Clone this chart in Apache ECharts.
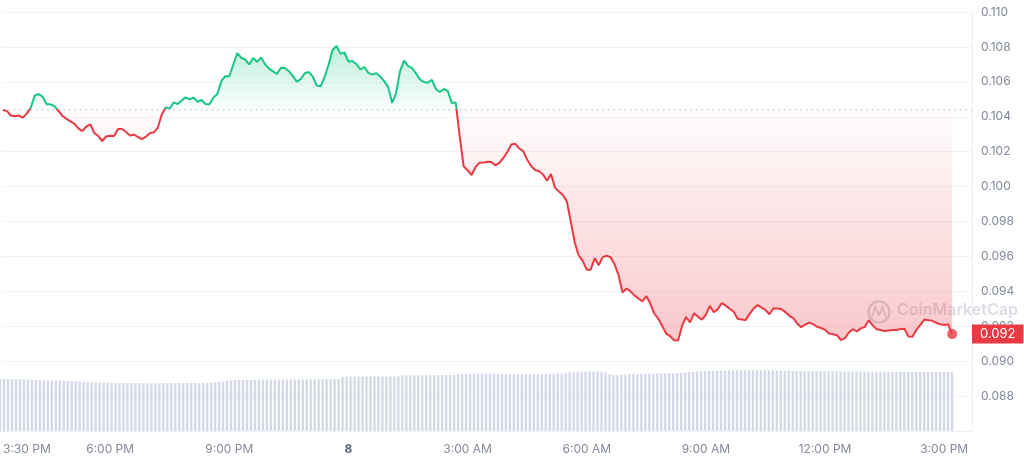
<!DOCTYPE html>
<html>
<head>
<meta charset="utf-8">
<script src="https://cdn.jsdelivr.net/npm/echarts@6/dist/echarts.min.js"></script>
<style>
html,body{margin:0;padding:0;background:#fff;}
#chart{width:1024px;height:463px;}
</style>
</head>
<body>
<div id="chart"></div>
<script>
// ---- data ----
const startHour = 15.3;      // first sample (hours since previous midnight)
const stepHour = 0.1;        // 6-minute samples
const prices = [
0.10439,0.10432,0.10407,0.10403,0.10407,0.10395,0.10418,0.10451,0.10521,0.10530,
0.10515,0.10472,0.10471,0.10460,0.10433,0.10404,0.10388,0.10374,0.10359,0.10333,
0.10318,0.10344,0.10357,0.10307,0.10290,0.10261,0.10287,0.10291,0.10290,0.10330,
0.10330,0.10313,0.10293,0.10297,0.10284,0.10272,0.10286,0.10306,0.10311,0.10337,
0.10413,0.10453,0.10448,0.10482,0.10473,0.10493,0.10511,0.10499,0.10510,0.10485,
0.10496,0.10473,0.10471,0.10510,0.10530,0.10605,0.10632,0.10632,0.10698,0.10765,
0.10738,0.10727,0.10700,0.10737,0.10714,0.10740,0.10700,0.10676,0.10660,0.10645,
0.10681,0.10679,0.10661,0.10633,0.10601,0.10616,0.10649,0.10656,0.10631,0.10579,
0.10574,0.10629,0.10698,0.10782,0.10805,0.10760,0.10768,0.10715,0.10719,0.10701,
0.10671,0.10685,0.10651,0.10641,0.10649,0.10630,0.10604,0.10570,0.10479,0.10536,
0.10662,0.10721,0.10691,0.10678,0.10648,0.10614,0.10599,0.10595,0.10611,0.10559,
0.10542,0.10559,0.10548,0.10479,0.10482,0.10290,0.10116,0.10094,0.10066,0.10112,
0.10137,0.10138,0.10142,0.10141,0.10121,0.10136,0.10164,0.10198,0.10241,0.10245,
0.10218,0.10203,0.10154,0.10118,0.10095,0.10088,0.10069,0.10033,0.10072,0.09994,
0.09972,0.09952,0.09914,0.09797,0.09677,0.09604,0.09574,0.09523,0.09524,0.09591,
0.09549,0.09596,0.09604,0.09595,0.09555,0.09493,0.09393,0.09416,0.09400,0.09377,
0.09359,0.09343,0.09373,0.09330,0.09273,0.09244,0.09201,0.09158,0.09143,0.09120,
0.09118,0.09202,0.09253,0.09222,0.09274,0.09255,0.09238,0.09267,0.09316,0.09280,
0.09298,0.09333,0.09318,0.09300,0.09283,0.09243,0.09239,0.09235,0.09271,0.09301,
0.09321,0.09308,0.09293,0.09269,0.09303,0.09302,0.09298,0.09281,0.09260,0.09247,
0.09214,0.09195,0.09210,0.09221,0.09212,0.09197,0.09190,0.09180,0.09159,0.09154,
0.09149,0.09121,0.09132,0.09164,0.09184,0.09170,0.09188,0.09196,0.09235,0.09205,
0.09183,0.09178,0.09172,0.09176,0.09178,0.09179,0.09184,0.09184,0.09141,0.09140,
0.09180,0.09208,0.09238,0.09235,0.09231,0.09220,0.09211,0.09207,0.09211,0.09155
];
const volumes = [
53.2,53.0,52.9,52.8,52.8,52.7,52.6,52.5,
52.0,51.9,51.8,51.8,51.7,51.6,51.5,51.4,51.2,51.0,50.8,50.6,50.4,50.2,50.0,49.8,49.6,49.5,
49.4,49.3,49.2,49.2,49.1,49.0,49.0,49.0,48.9,48.9,48.8,48.8,48.8,48.8,48.8,48.9,48.9,48.9,49.0,49.0,49.0,49.0,49.1,49.1,49.1,49.2,49.2,49.3,49.4,
50.0,50.6,51.1,51.5,51.8,
52.0,52.0,52.1,52.1,52.1,52.2,52.2,52.2,52.3,52.3,52.3,52.4,52.4,52.4,52.5,52.5,52.5,52.6,52.6,52.6,52.7,52.7,52.8,52.8,52.9,53.0,
55.0,55.2,55.2,55.3,55.3,55.3,55.4,55.4,55.4,55.5,55.5,55.5,55.5,55.6,55.6,
56.5,56.6,56.6,56.7,56.7,56.7,56.8,56.8,56.8,56.9,56.9,57.0,57.0,57.0,
58.2,58.3,58.3,58.4,58.4,58.4,58.5,58.5,58.5,58.4,58.3,58.2,58.1,
58.0,58.0,57.9,57.9,57.9,58.0,58.0,58.0,58.1,58.1,58.1,58.2,58.2,58.3,58.6,
59.6,60.0,60.2,60.3,60.4,60.4,60.4,60.3,60.1,59.5,
57.5,57.0,57.0,57.2,57.5,
57.8,58.0,58.1,58.2,58.3,58.4,58.5,58.5,58.6,58.6,58.7,58.7,58.8,58.8,
59.4,59.8,60.0,60.3,
60.8,61.0,61.1,61.2,61.3,61.4,61.5,61.5,61.6,61.6,61.7,61.7,61.7,61.8,61.8,61.8,61.7,61.7,61.6,61.5,61.4,61.3,61.2,61.1,61.0,
60.9,60.8,60.8,60.7,60.7,60.7,60.6,60.6,60.6,60.5,60.5,60.5,60.4,60.4,60.4,60.3,60.3,
60.3,60.3,60.2,60.2,60.2,60.2,60.2,60.1,60.1,60.1,60.1,60.1,60.1,60.0,60.0,60.0,60.0,60.0,60.0,60.0,60.0,60.0
];
const xTickValues = [15.5, 18, 21, 24, 27, 30, 33, 36, 39];
const xTickLabels = ['3:30 PM','6:00 PM','9:00 PM','8','3:00 AM','6:00 AM','9:00 AM','12:00 PM','3:00 PM'];
const yTickMin = 0.086, yTickMax = 0.110, yTickStep = 0.002;
const xMin = 15.3, xMax = 39.7;

// ---- build ----
const GREEN = '#16c784', RED = '#ea3943';
const baseline = prices[0];
const hours = prices.map((_, i) => +(startHour + i * stepHour).toFixed(2));
const pricePts = prices.map((p, i) => [hours[i], p]);
const volPts = volumes.map((v, i) => [hours[i], v]);
const last = prices[prices.length - 1];
const pMax = Math.max.apply(null, prices), pMin = Math.min.apply(null, prices);
const split = (pMax - baseline) / (pMax - pMin);
const FONT = 'Inter, "Noto Sans", sans-serif';

// price path with the exact baseline crossings inserted (data space)
const crossPts = [];
for (let i = 0; i < pricePts.length; i++) {
  if (i > 0) {
    const a = pricePts[i - 1], b = pricePts[i];
    if ((a[1] - baseline) * (b[1] - baseline) < 0) {
      const t = (baseline - a[1]) / (b[1] - a[1]);
      crossPts.push([a[0] + t * (b[0] - a[0]), baseline]);
    }
  }
  crossPts.push(pricePts[i]);
}
const upOutline = crossPts.map(d => [d[0], Math.max(d[1], baseline)])
  .concat([[hours[hours.length - 1], baseline], [hours[0], baseline]]);
const dnOutline = crossPts.map(d => [d[0], Math.min(d[1], baseline)])
  .concat([[hours[hours.length - 1], baseline], [hours[0], baseline]]);

const lineColor = new echarts.graphic.LinearGradient(0, 0, 0, 1, [
  {offset: 0, color: GREEN}, {offset: split, color: GREEN},
  {offset: split, color: RED}, {offset: 1, color: RED}
]);

const chart = echarts.init(document.getElementById('chart'), null, {renderer: 'canvas'});
chart.setOption({
  animation: false,
  backgroundColor: '#ffffff',
  grid: [
    {left: 0, right: 52, top: 12, bottom: 32},
    {left: 0, right: 52, bottom: 31, height: 62}
  ],
  xAxis: [
    {
      type: 'value', gridIndex: 0, min: xMin, max: xMax,
      axisLine: {show: true, lineStyle: {color: '#eef0f4'}},
      axisTick: {show: false},
      splitLine: {show: false},
      axisLabel: {
        customValues: xTickValues,
        margin: 12,
        fontFamily: FONT, fontSize: 12, color: '#818a9a',
        formatter: function (v) {
          const k = xTickValues.findIndex(t => Math.abs(t - v) < 1e-6);
          const s = k >= 0 ? xTickLabels[k] : '';
          if (k === 0) return '{first|' + s + '}';
          if (s === '8') return '{bold|' + s + '}';
          return s;
        },
        rich: {
          first: {padding: [0, 0, 0, 32], fontFamily: FONT, fontSize: 12, color: '#818a9a'},
          bold: {fontWeight: 'bold', fontFamily: FONT, fontSize: 12, color: '#58667e'}
        }
      },
      z: 3
    },
    {type: 'value', gridIndex: 1, min: xMin, max: xMax, show: false}
  ],
  yAxis: [
    {
      type: 'value', gridIndex: 0, position: 'right',
      min: yTickMin, max: yTickMax, interval: yTickStep,
      axisLine: {show: true, lineStyle: {color: '#eef0f4'}},
      axisTick: {show: false},
      splitLine: {show: true, lineStyle: {color: '#f1f3f6', width: 1}},
      axisLabel: {
        showMinLabel: false, margin: 9,
        fontFamily: FONT, fontSize: 12, color: '#818a9a',
        formatter: v => v.toFixed(3)
      },
      axisPointer: {
        show: true, value: last, status: 'show', snap: false, triggerTooltip: false,
        type: 'line', lineStyle: {opacity: 0},
        label: {
          show: true, margin: 0, formatter: p => (+p.value).toFixed(3),
          backgroundColor: RED, color: '#ffffff', fontFamily: FONT, fontSize: 13,
          padding: [3, 8, 3, 8], borderRadius: 0
        }
      }
    },
    {type: 'value', gridIndex: 1, min: 0, max: 62, show: false}
  ],
  graphic: [
    {
      type: 'circle', z: 1, silent: true,
      shape: {cx: 879, cy: 312, r: 10.5},
      style: {fill: 'none', stroke: 'rgba(165,175,195,0.45)', lineWidth: 2.5}
    },
    {
      type: 'polyline', z: 1, silent: true,
      shape: {points: [[872, 317], [875.5, 307], [879, 315], [882.5, 307], [886, 317]]},
      style: {fill: 'none', stroke: 'rgba(165,175,195,0.45)', lineWidth: 2}
    },
    {
      type: 'text', z: 1, silent: true, left: 897, top: 302,
      style: {text: 'CoinMarketCap', fill: 'rgba(165,175,195,0.42)', font: '600 16px Inter, sans-serif'}
    }
  ],
  series: [
    {
      name: 'price', type: 'line', xAxisIndex: 0, yAxisIndex: 0, data: pricePts,
      symbol: 'none', lineStyle: {width: 2, color: lineColor}, z: 5
    },
    {
      name: 'open', type: 'line', data: [[xMin, baseline], [xMax, baseline]],
      symbol: 'none', silent: true, z: 4,
      lineStyle: {type: [1.5, 4], color: '#a9b0bd', width: 1}
    },
    {
      name: 'area', type: 'custom', xAxisIndex: 0, yAxisIndex: 0, silent: true, z: 2,
      data: [[hours[0], baseline]],
      renderItem: function (params, api) {
        const up = upOutline.map(d => api.coord(d));
        const dn = dnOutline.map(d => api.coord(d));
        return {
          type: 'group',
          children: [
            {
              type: 'polygon', shape: {points: up},
              style: {fill: new echarts.graphic.LinearGradient(0, 0, 0, 1, [
                {offset: 0, color: 'rgba(22,199,132,0.28)'},
                {offset: 1, color: 'rgba(22,199,132,0.02)'}
              ])}
            },
            {
              type: 'polygon', shape: {points: dn},
              style: {fill: new echarts.graphic.LinearGradient(0, 0, 0, 1, [
                {offset: 0, color: 'rgba(234,57,67,0.01)'},
                {offset: 1, color: 'rgba(234,57,67,0.28)'}
              ])}
            }
          ]
        };
      }
    },
    {
      type: 'scatter', data: [pricePts[pricePts.length - 1]], symbol: 'circle',
      symbolSize: 10, itemStyle: {color: RED}, z: 6, silent: true
    },
    {
      type: 'bar', xAxisIndex: 1, yAxisIndex: 1, data: volPts, barWidth: 2.4,
      itemStyle: {color: '#d3d9e7'}, silent: true, z: 1
    }
  ]
});
</script>
</body>
</html>
